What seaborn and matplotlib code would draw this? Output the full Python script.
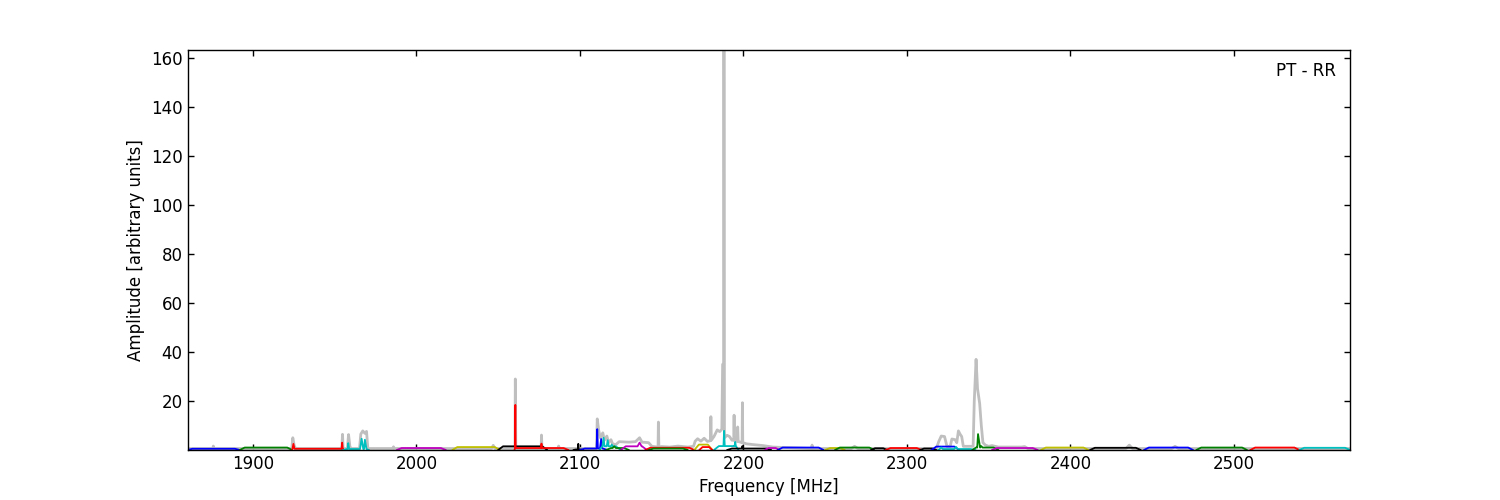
import matplotlib
matplotlib.use("Agg")
import numpy as np
import pandas as pd
import seaborn as sns
import matplotlib.pyplot as plt

# raw spectrum (grey), vertices
gray_freq = [1860, 1875.5, 1875.8, 1876.1, 1923.8, 1924.4, 1925.2, 1926,
             1954.4, 1954.8, 1955.2, 1957.8, 1958.5, 1959.3, 1960,
             1965.2, 1966, 1967.2, 1968.5, 1969.5, 1970.3, 1985.5, 1986, 1986.5,
             2046, 2047, 2048, 2060.3, 2060.5, 2060.8, 2076.3, 2076.5, 2076.8,
             2086.5, 2087, 2087.5,
             2110.2, 2110.6, 2111.5, 2112.5, 2114, 2115, 2116.5, 2117.5, 2119, 2120,
             2122, 2124, 2130, 2134, 2136.5, 2138, 2142, 2144,
             2147.8, 2148, 2148.3, 2150, 2155, 2160, 2166,
             2169.5, 2170.5, 2172, 2174, 2176, 2178,
             2179.8, 2180.1, 2180.4, 2182, 2184, 2185.5, 2186.8,
             2187.3, 2187.9, 2188.0, 2188.2, 2188.4, 2190, 2191.5, 2193,
             2194.1, 2194.3, 2194.5, 2196.2, 2196.5, 2196.8,
             2199.2, 2199.4, 2199.6, 2202, 2206, 2212, 2218,
             2241.5, 2242, 2242.5, 2266, 2268, 2270,
             2318, 2319.5, 2321, 2323, 2324.5, 2326.5, 2327.5, 2329.5, 2330.5,
             2331.5, 2332.5, 2333.5, 2334.5,
             2340.5, 2341.2, 2342.3, 2343.2, 2344.5, 2345.5, 2346.5, 2348, 2350,
             2352, 2356, 2370, 2372, 2374, 2434, 2436, 2438, 2462, 2464, 2466, 2571]
gray_amp = [0.6, 0.6, 1.6, 0.6, 0.6, 5.0, 2.0, 0.6,
            0.6, 6.4, 0.6, 0.6, 6.3, 1.5, 0.6,
            0.6, 6.5, 7.8, 6.8, 7.6, 0.6, 0.6, 1.3, 0.6,
            0.6, 1.9, 0.6, 0.6, 29.0, 0.6, 0.6, 6.1, 0.6,
            0.6, 1.6, 0.6,
            0.6, 12.7, 8.0, 5.0, 7.0, 4.0, 5.7, 3.0, 4.2, 2.5,
            2.2, 3.4, 3.2, 3.4, 5.0, 3.2, 3.0, 1.5,
            1.2, 11.4, 1.2, 1.4, 1.2, 1.6, 1.2,
            1.5, 3.6, 4.6, 3.6, 4.8, 3.5,
            3.8, 13.6, 4.0, 5.5, 8.2, 7.5, 8.5,
            35.0, 35.0, 163.3, 163.3, 5.0, 6.0, 5.5, 4.0,
            4.0, 14.2, 4.0, 3.5, 9.4, 3.5,
            3.0, 19.3, 3.0, 2.5, 2.2, 1.8, 1.2,
            0.6, 2.0, 0.6, 0.6, 1.5, 0.6,
            0.6, 3.5, 5.7, 5.5, 1.5, 1.5, 4.5, 4.2, 3.0,
            7.8, 6.5, 5.5, 1.5,
            1.5, 20.0, 37.0, 25.0, 19.0, 10.0, 3.0, 2.0, 1.5,
            1.8, 1.2, 1.2, 1.4, 0.6, 0.6, 2.0, 0.6, 0.6, 1.5, 0.6, 0.6]

# calibrated sub-bands (coloured)
band_lo = [1860, 1892, 1924, 1955, 1988, 2022, 2050, 2060, 2096, 2100, 2112, 2116,
           2125, 2140, 2142, 2170, 2173, 2182, 2190, 2213, 2221, 2250, 2256, 2278,
           2287, 2308, 2315, 2319, 2340, 2352, 2382, 2412, 2445, 2477, 2510, 2540]
band_hi = [1892, 1924, 1955, 1971, 2018, 2051, 2080, 2093, 2102, 2117, 2125, 2130,
           2141, 2170, 2166, 2181, 2181, 2197, 2217, 2222, 2249, 2262, 2280, 2288,
           2309, 2318, 2332, 2342, 2356, 2380, 2411, 2443, 2475, 2508, 2540, 2571]
band_level = [0.5, 1.0, 0.5, 0.4, 0.8, 1.2, 1.5, 0.8, 0.2, 0.6, 1.5, 0.8,
              1.5, 0.9, 0.6, 2.2, 1.2, 1.6, 0.6, 0.8, 1.0, 0.8, 1.0, 0.7,
              0.8, 0.6, 1.4, 0.4, 1.0, 0.8, 1.0, 0.9, 1.0, 1.0, 1.0, 0.9]
band_color = ["b", "g", "r", "c", "m", "y", "k", "r", "k", "b", "c", "g",
              "m", "r", "g", "y", "r", "c", "k", "m", "b", "y", "g", "k",
              "r", "k", "b", "c", "g", "m", "y", "k", "b", "g", "r", "c"]

spike_freq = [1924.8, 1954.6, 1958.3, 1966.5, 1968.5, 2060.5, 2076.5, 2099,
              2110.6, 2113, 2114.5, 2117, 2119.5, 2121, 2136.5,
              2188.2, 2195, 2199.4, 2321, 2330, 2343.5, 2345.5]
spike_amp = [2.5, 3.0, 2.8, 4.6, 4.2, 18.4, 2.6, 2.5,
             8.5, 4.5, 5.0, 4.0, 2.2, 1.5, 3.0,
             7.8, 3.3, 1.6, 1.0, 1.3, 6.5, 1.6]
spike_width = [1.2, 0.8, 1.2, 2.0, 2.0, 0.4, 0.4, 0.4,
               0.8, 1.5, 1.5, 1.2, 1.2, 2.0, 2.5,
               0.8, 0.8, 0.5, 2.0, 2.0, 2.5, 1.5]
spike_color = ["r", "r", "c", "c", "c", "r", "r", "k",
               "b", "b", "c", "c", "c", "g", "m",
               "c", "c", "k", "c", "c", "g", "g"]

palette_map = {"b": (0, 0, 1), "g": (0, 0.5, 0), "r": (1, 0, 0),
               "c": (0, 0.75, 0.75), "m": (0.75, 0, 0.75),
               "y": (0.75, 0.75, 0), "k": (0, 0, 0)}

rows = []
for i, (lo, hi, lev, col) in enumerate(zip(band_lo, band_hi, band_level, band_color)):
    ramp = min(3.0, (hi - lo) / 4)
    pts = [(lo, 0.0), (lo + ramp, lev), (hi - ramp, lev), (hi, 0.0)]
    for f, a, w, c in zip(spike_freq, spike_amp, spike_width, spike_color):
        if c == col and lo <= f <= hi:
            pts += [(f - w / 2, lev), (f, a), (f + w / 2, lev)]
    pts.sort()
    for f, a in pts:
        rows.append({"freq": f, "amp": a, "band": i})
bands = pd.DataFrame(rows)
palette = {i: palette_map[c] for i, c in enumerate(band_color)}

sns.set_style("ticks")
plt.rcParams["font.family"] = ["DejaVu Sans"]
plt.rcParams["font.size"] = 12
plt.rcParams["text.color"] = "black"
plt.rcParams["axes.labelcolor"] = "black"

fig, ax = plt.subplots(figsize=(15, 5), dpi=100)
fig.subplots_adjust(left=0.125, right=0.9, bottom=0.1, top=0.9)

sns.lineplot(x=gray_freq, y=gray_amp, color="0.75", lw=2, sort=False,
             estimator=None, ax=ax)
sns.lineplot(data=bands, x="freq", y="amp", hue="band", palette=palette,
             lw=1.3, sort=False, estimator=None, legend=False, ax=ax)

ax.set_xlim(1860, 2571)
ax.set_ylim(0, 163.3)
ax.set_xticks(range(1900, 2501, 100))
ax.set_yticks(range(20, 161, 20))
ax.tick_params(direction="in", top=True, right=True, length=4, width=1,
               colors="black", labelsize=12)
for s in ax.spines.values():
    s.set_color("black")
    s.set_linewidth(1)
ax.set_xlabel("Frequency [MHz]", fontsize=12, color="black")
ax.set_ylabel("Amplitude [arbitrary units]", fontsize=12, color="black")
ax.text(0.988, 0.947, "PT - RR", ha="right", va="center",
        transform=ax.transAxes, fontsize=12, color="black")

fig.savefig("out.png", dpi=100)
